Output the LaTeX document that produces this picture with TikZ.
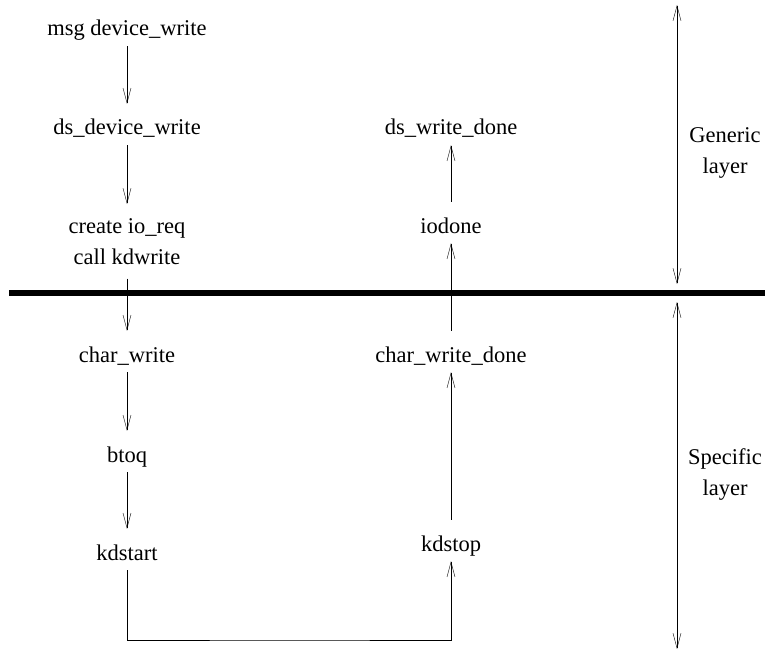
\documentclass[tikz,border=0pt]{standalone}
\usepackage{fontspec}
\setmainfont{Liberation Serif}
\usetikzlibrary{arrows.meta}
\tikzset{>={Straight Barb[length=15pt,width=8pt]}, line width=1pt,
  fn/.style={font=\fontsize{22.5}{31}\selectfont, inner xsep=2pt, inner ysep=0pt,
    text height=31pt, text depth=10pt, anchor=base},
  twoline/.style={font=\fontsize{22.5}{31}\selectfont, align=center, inner xsep=2pt,
    inner ysep=14pt, anchor=north},
  side/.style={font=\fontsize{22.5}{31}\selectfont, align=center, inner sep=0pt, anchor=north},
  layerline/.style={line width=5.5pt}}

\begin{document}
\begin{tikzpicture}[x=1pt, y=-1pt]
    \useasboundingbox (0,0) rectangle (765,650);
    % down path
    \node[fn] (msg) at (127, 36) {msg device\_write};
    \node[fn] (dsw) at (127, 135) {ds\_device\_write};
    \node[twoline] (req) at (127, 204) {create io\_req\\ call kdwrite};
    \node[fn] (cw) at (127, 362) {char\_write};
    \node[fn] (btoq) at (127, 462) {btoq};
    \node[fn] (kds) at (127, 560) {kdstart};
    % up path
    \node[fn] (kdp) at (451, 551) {kdstop};
    \node[fn] (cwd) at (451, 362) {char\_write\_done};
    \node[fn] (iod) at (451, 233) {iodone};
    \node[fn] (dwd) at (451, 135) {ds\_write\_done};
    \coordinate (turn) at (290, 640);
    % layer split
    \draw[layerline] (9, 293) -- (765, 293);
    \path[->]
        (msg) edge (dsw)
        (dsw) edge (req)
        (req) edge (cw)
        (cw) edge (btoq)
        (btoq) edge (kds)
        (kdp) edge (cwd)
        (cwd) edge (iod)
        (iod) edge (dwd)
        ;
    \draw[->] (kds) |- (turn) -| (kdp);
    % layer extents
    \coordinate (gtop) at (677, 5);
    \coordinate (gbot) at (677, 284);
    \coordinate (stop) at (677, 302);
    \coordinate (sbot) at (677, 649);
    \draw[<->] (gtop) -- (gbot);
    \draw[<->] (stop) -- (sbot);
    \node[side] (gen) at (725, 127) {Generic\\ layer};
    \node[side] (spec) at (725, 448) {Specific\\ layer};
\end{tikzpicture}
\end{document}
